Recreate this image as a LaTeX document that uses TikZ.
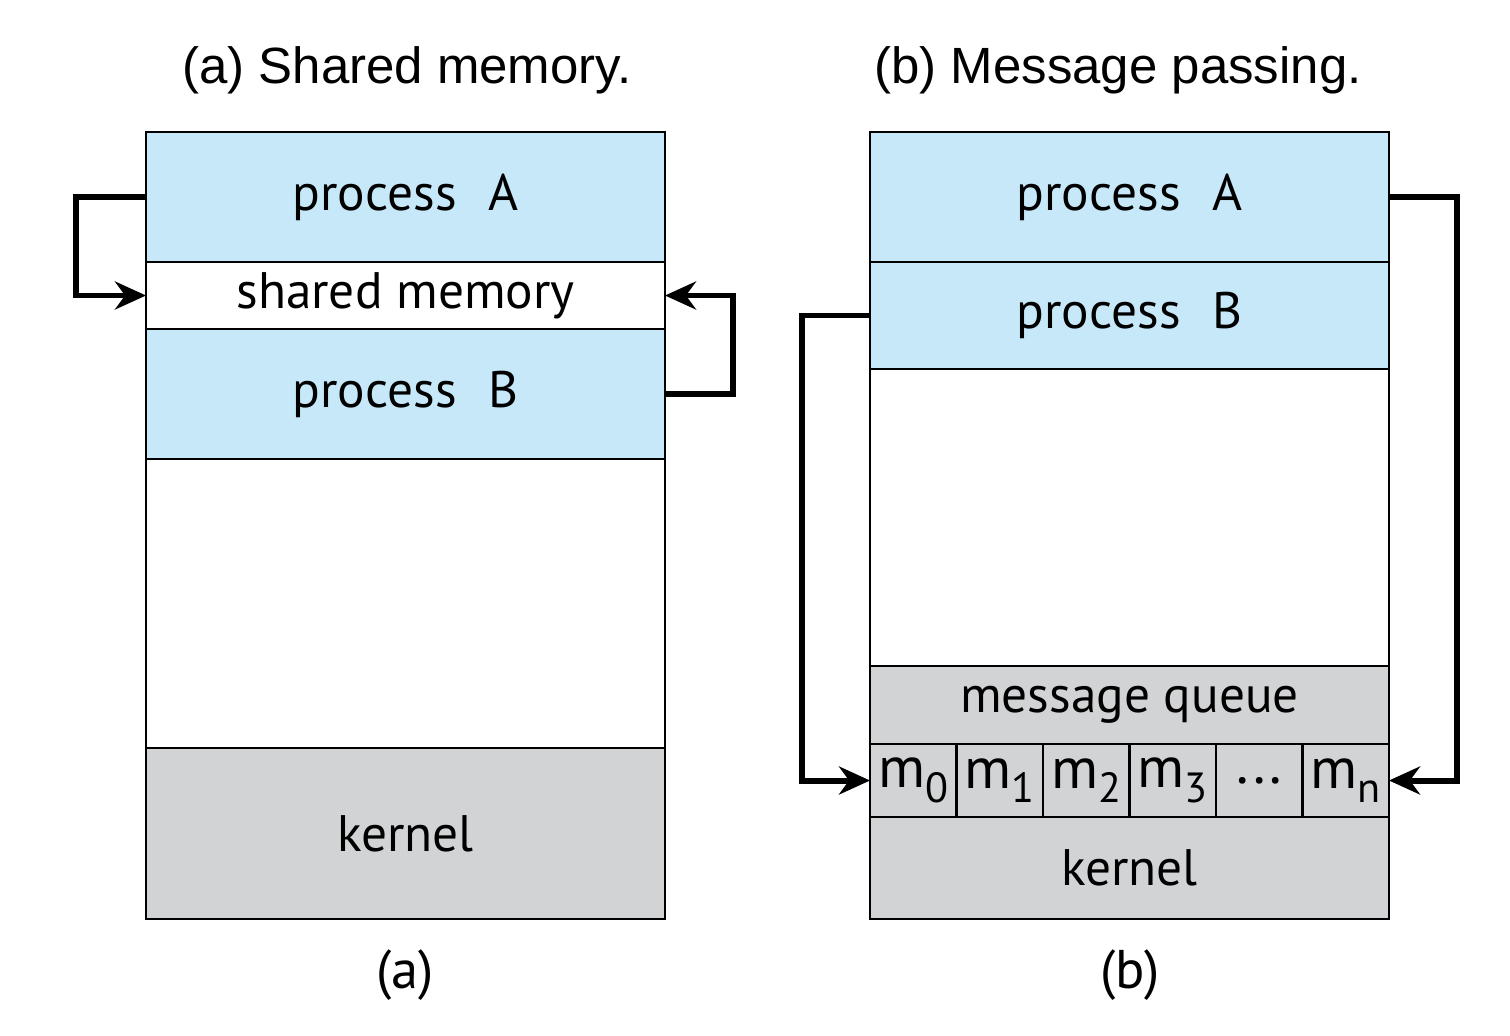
\documentclass[tikz,border=0pt]{standalone}
\usepackage{fontspec}
\setmainfont[Numbers=Lining]{PT Sans}
\newfontfamily\titlefont{Liberation Sans}
\usetikzlibrary{arrows.meta, positioning}
\definecolor{procblue}{HTML}{C6E8F8}
\definecolor{kerngray}{HTML}{D1D3D4}
\newcommand{\qsub}[1]{\raisebox{-0.5ex}{\fontsize{12}{12}\selectfont #1}}

\begin{document}
\begin{tikzpicture}[
  node distance=0pt,
  blk/.style={draw, line width=0.75pt, minimum width=5.19cm, inner sep=0pt, outer sep=0pt, align=center, font=\fontsize{14.6}{18}\selectfont},
  proc/.style={blk, fill=procblue},
  kern/.style={blk, fill=kerngray},
  cell/.style={kern, minimum width=0.865cm, minimum height=0.73cm, font=\fontsize{16.5}{18}\selectfont},
  ttl/.style={font=\titlefont\fontsize{14.5}{17}\selectfont},
  sublabel/.style={font=\fontsize{15.5}{18}\selectfont},
  arr/.style={-{Stealth[length=3.1mm, width=2.8mm]}, line width=1.7pt}
]
\useasboundingbox (0,0) rectangle (15.1,10.35);

% (a) shared memory
\node[proc, anchor=north west, minimum height=1.30cm] (procA) at (1.46,9.03) {process\hspace{0.35em} A};
\node[blk, below=of procA, minimum height=0.67cm] (shm) {shared memory};
\node[proc, below=of shm, minimum height=1.30cm] (procB) {process\hspace{0.35em} B};
\node[blk, below=of procB, minimum height=2.89cm] (freeA) {};
\node[kern, below=of freeA, minimum height=1.71cm] (kernA) {kernel};

\draw[arr] (procA.west) -- ++(-0.70,0) |- (shm.west);
\draw[arr] (procB.east) -- ++(0.68,0) |- (shm.east);

% (b) message passing
\node[proc, anchor=north west, minimum height=1.30cm] (rprocA) at (8.70,9.03) {process\hspace{0.35em} A};
\node[proc, below=of rprocA, minimum height=1.07cm] (rprocB) {process\hspace{0.35em} B};
\node[blk, below=of rprocB, minimum height=2.97cm] (freeB) {};
\node[kern, below=of freeB, minimum height=0.78cm] (queue) {message queue};
\node[cell, anchor=north west] (m0) at (queue.south west) {m\qsub{0}};
\node[cell, right=of m0] (m1) {m\qsub{1}};
\node[cell, right=of m1] (m2) {m\qsub{2}};
\node[cell, right=of m2] (m3) {m\qsub{3}};
\node[cell, right=of m3] (mdots) {...};
\node[cell, right=of mdots] (mn) {m\qsub{n}};
\node[kern, below=of queue, yshift=-0.73cm, minimum height=1.02cm] (kernB) {kernel};

\draw[arr] (rprocA.east) -- ++(0.68,0) |- (mn.east);
\draw[arr] (rprocB.west) -- ++(-0.68,0) |- (m0.west);

% titles and captions
\node[ttl] (ttlA) at (4.07,9.65) {(a) Shared memory.};
\node[ttl] (ttlB) at (11.18,9.65) {(b) Message passing.};
\node[sublabel] (capA) at (4.05,0.60) {(a)};
\node[sublabel] (capB) at (11.30,0.60) {(b)};
\end{tikzpicture}
\end{document}
